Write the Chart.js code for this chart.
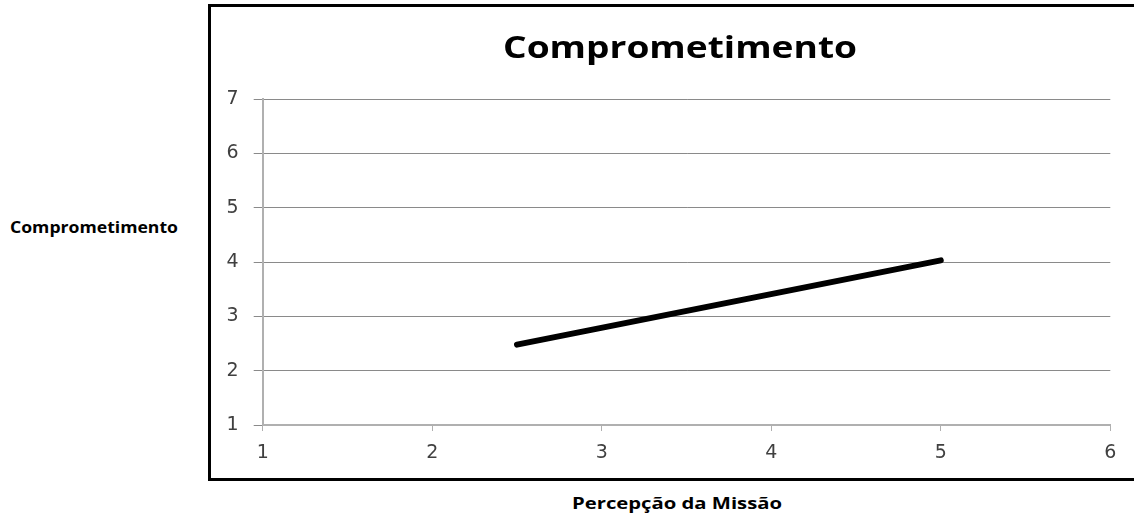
<!DOCTYPE html>
<html>
<head>
<meta charset="utf-8">
<script src="https://cdn.jsdelivr.net/npm/chart.js@4/dist/chart.umd.min.js"></script>
<style>
  html, body { margin: 0; padding: 0; background: #fff; width: 1134px; height: 529px; overflow: hidden; }
  #frame {
    position: absolute; left: 208px; top: 4px; width: 926px; height: 471px;
    border-left: 3px solid #000; border-top: 3px solid #000; border-bottom: 3px solid #000;
  }
  #wrap { position: absolute; left: 211px; top: 7px; width: 923px; height: 471px; }
  .lbl {
    position: absolute; font-family: "Open Sans", sans-serif; font-weight: 700; color: #000;
    white-space: nowrap; line-height: 1; transform-origin: 0 0;
  }
</style>
</head>
<body>
<div id="frame"></div>
<div id="wrap"><canvas id="c" width="923" height="471"></canvas></div>
<div class="lbl" id="title" style="font-size:31px">Comprometimento</div>
<div class="lbl" id="ylab" style="font-size:16px">Comprometimento</div>
<div class="lbl" id="xlab" style="font-size:16px">Percepção da Missão</div>
<script>
// Regression line: Percepção da Missão (x) vs Comprometimento (y)
const missao = [2.5, 5];
const comprometimento = [2.48, 4.03];
const xTicks = [1, 2, 3, 4, 5, 6];
const yTicks = [1, 2, 3, 4, 5, 6, 7];

// Place a text label so it spans a given width, centred on cx, baseline at by
function placeLabel(id, cx, baseline, width, asc) {
  const el = document.getElementById(id);
  const fs = parseFloat(el.style.fontSize);
  const w = el.getBoundingClientRect().width;
  const sx = width / w;
  el.style.transform = 'scaleX(' + sx + ')';
  el.style.left = (cx - width / 2) + 'px';
  // line-height 1: baseline sits about 0.888em below the top for Open Sans
  el.style.top = (baseline - asc * fs) + 'px';
}

function go() {
  placeLabel('title', 680, 59, 354, 0.888);
  placeLabel('ylab', 94, 233, 168, 0.888);
  placeLabel('xlab', 677, 509, 210, 0.888);

  const points = missao.map((x, i) => ({ x: x, y: comprometimento[i] }));

  new Chart(document.getElementById('c'), {
    type: 'scatter',
    data: {
      datasets: [{
        data: points,
        showLine: true,
        borderColor: '#000',
        backgroundColor: '#000',
        borderWidth: 6,
        borderCapStyle: 'round',
        pointRadius: 0,
        pointHoverRadius: 0,
        tension: 0
      }]
    },
    options: {
      responsive: false,
      animation: false,
      events: [],
      layout: { padding: { left: 0, right: 23.7, top: 92, bottom: 0 } },
      plugins: { legend: { display: false }, tooltip: { enabled: false }, title: { display: false } },
      scales: {
        x: {
          type: 'linear',
          min: xTicks[0], max: xTicks[xTicks.length - 1],
          afterBuildTicks: s => { s.ticks = xTicks.map(v => ({ value: v })); },
          afterFit: s => { s.height = 53; },
          grid: { drawOnChartArea: false, drawTicks: true, tickLength: 6, color: '#b0b0b0', lineWidth: 1 },
          border: { color: '#b0b0b0', width: 2 },
          ticks: { padding: 11, color: '#404040', font: { family: 'DejaVu Sans', size: 19 } }
        },
        y: {
          type: 'linear',
          min: yTicks[0], max: yTicks[yTicks.length - 1],
          afterBuildTicks: s => { s.ticks = yTicks.map(v => ({ value: v })); },
          afterFit: s => { s.width = 51.7; },
          grid: { color: '#8a8a8a', lineWidth: 1, tickLength: 9, drawTicks: true },
          border: { color: '#b0b0b0', width: 2 },
          ticks: { padding: 15, color: '#404040', font: { family: 'DejaVu Sans', size: 19 } }
        }
      }
    }
  });
}
if (document.fonts && document.fonts.ready) { document.fonts.ready.then(go); } else { go(); }
</script>
</body>
</html>
